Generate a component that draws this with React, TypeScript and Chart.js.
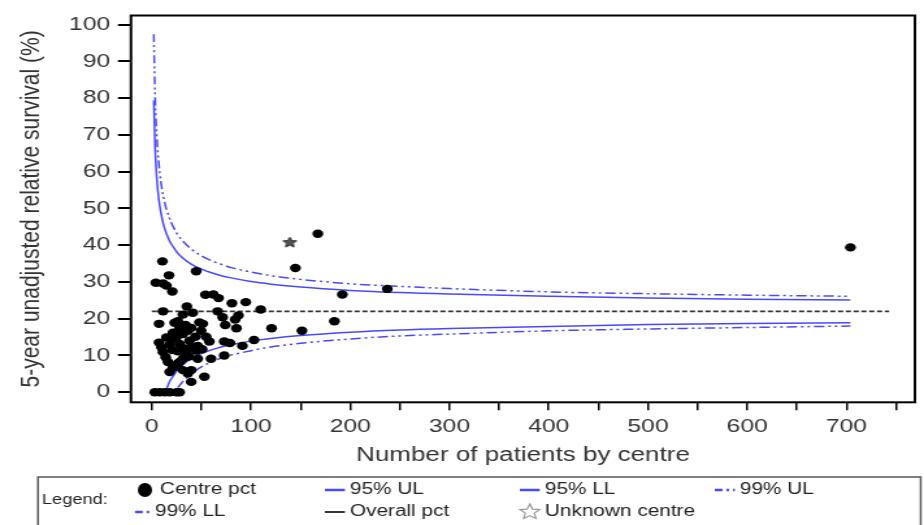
import React, { useEffect, useRef } from 'react';
import { Chart, registerables } from 'chart.js';

Chart.register(...registerables);

// ---- data ----
const centreN = [
  10.7, 44.7, 17.3, 4.0, 11.3, 14.7, 20.7, 144.7, 54.0, 62.0,
  67.3, 80.7, 94.7, 35.3, 41.3, 11.3, 66.3, 71.3, 87.3, 84.0,
  109.7, 7.3, 23.0, 51.3, 74.0, 85.3, 120.7, 151.3, 58.0, 73.0,
  78.7, 91.3, 103.0, 44.7, 59.7, 73.0, 53.0, 39.7, 18.0, 28.0,
  39.7, 7.3, 9.7, 11.3, 14.0, 16.3, 21.3, 26.3, 31.3, 34.7,
  28.0, 24.7, 31.3, 36.3, 39.7, 34.0, 28.0, 21.3, 19.7, 38.0,
  44.0, 46.3, 50.7, 39.7, 33.0, 26.3, 37.3, 46.3, 31.3, 36.3,
  20.7, 18.0, 14.7, 49.7, 54.7, 31.3, 26.3, 48.0, 32.5, 3.0,
  8.0, 13.0, 18.0, 25.0, 28.0, 167.3, 192.0, 237.3, 184.0, 704.0,
];
const centrePct = [
  35.6, 32.9, 31.8, 29.8, 29.6, 29.0, 27.4, 33.8, 26.5, 26.6,
  25.6, 24.2, 24.5, 23.3, 21.6, 22.0, 22.0, 20.4, 20.9, 19.8,
  22.5, 18.6, 18.9, 18.6, 18.3, 17.4, 17.4, 16.7, 13.8, 13.8,
  13.4, 12.6, 14.2, 11.3, 9.1, 10.0, 4.2, 2.8, 5.5, 8.2,
  6.0, 13.5, 12.2, 10.9, 9.5, 8.2, 6.7, 7.8, 9.1, 10.6,
  13.1, 14.9, 15.8, 16.7, 17.5, 18.3, 17.4, 16.2, 14.4, 14.0,
  15.1, 12.6, 11.7, 12.2, 11.9, 11.1, 9.7, 9.1, 6.0, 5.1,
  11.5, 12.9, 14.9, 16.7, 15.1, 21.1, 19.3, 19.0, 17.0, 0,
  0, 0, 0, 0, 0, 43.1, 26.6, 28.1, 19.3, 39.4,
];

const limitN = [2, 3, 4, 5, 6, 8, 10, 12, 13, 14, 15, 18, 20, 24, 25, 30, 40, 50, 60, 70, 80, 100, 120, 150, 200, 250, 300, 400, 500, 600, 704];
const ul95 = [79.4, 68.9, 62.6, 58.3, 55.1, 50.7, 47.7, 45.4, 44.5, 43.7, 43.0, 41.1, 40.2, 38.6, 38.2, 36.8, 34.8, 33.5, 32.5, 31.7, 31.1, 30.1, 29.4, 28.6, 27.7, 27.1, 26.7, 26.1, 25.6, 25.3, 25.1];
const ll95 = [0, 0, 0, 0, 0, 0, 0, 0, 0, 0.3, 1.0, 2.9, 3.8, 5.4, 5.8, 7.2, 9.2, 10.5, 11.5, 12.3, 12.9, 13.9, 14.6, 15.4, 16.3, 16.9, 17.3, 17.9, 18.4, 18.7, 18.9];
const ul99 = [97.4, 83.6, 75.4, 69.7, 65.6, 59.7, 55.7, 52.8, 51.6, 50.5, 49.6, 47.2, 45.9, 43.8, 43.3, 41.5, 38.9, 37.1, 35.8, 34.8, 33.9, 32.7, 31.7, 30.7, 29.5, 28.8, 28.2, 27.3, 26.8, 26.4, 26.1];
const ll99 = [0, 0, 0, 0, 0, 0, 0, 0, 0, 0, 0, 0, 0, 0.2, 0.7, 2.5, 5.1, 6.9, 8.2, 9.3, 10.1, 11.3, 12.3, 13.3, 14.5, 15.3, 15.8, 16.7, 17.2, 17.6, 18.0];

const overallN = [0, 743];
const overallPct = [22, 22];

const unknownN = [139];
const unknownPct = [40.7];

const xTitle = 'Number of patients by centre';
const yTitle = '5-year unadjusted relative survival (%)';
const legendNames = ['Centre pct', '95% UL', '95% LL', '99% UL', '99% LL', 'Overall pct', 'Unknown centre'];

// ---- presentation ----
const S = 1.3; // horizontal stretch of the reference image
const IW = Math.round(924 / S);
const IH = 525;
const FONT = "'Liberation Sans', Arial, sans-serif";
const BLUE = 'rgb(72,72,255)';
const DASHDOT = [8, 3, 2, 3, 2, 3];

function pts(xs: number[], ys: number[]) {
  return xs.map((x, i) => ({ x, y: ys[i] }));
}

function starPath(g: CanvasRenderingContext2D, cx: number, cy: number, ro: number, ri: number) {
  g.beginPath();
  for (let i = 0; i < 10; i++) {
    const r = i % 2 === 0 ? ro : ri;
    const a = -Math.PI / 2 + (i * Math.PI) / 5;
    const x = cx + r * Math.cos(a);
    const y = cy + r * Math.sin(a);
    if (i === 0) g.moveTo(x, y);
    else g.lineTo(x, y);
  }
  g.closePath();
}

function makeStar(fill: string, stroke: string, r: number) {
  const c = document.createElement('canvas');
  const size = Math.ceil(r * 2 + 2);
  c.width = size;
  c.height = size;
  const g = c.getContext('2d')!;
  starPath(g, size / 2, size / 2, r, r * 0.45);
  g.fillStyle = fill;
  g.fill();
  g.strokeStyle = stroke;
  g.lineWidth = 1;
  g.stroke();
  return c;
}

const X = (css: number) => css / S;

const frameLegendPlugin = {
  id: 'frameLegend',
  afterDraw(chart: any) {
    const { ctx, chartArea: a } = chart;
    ctx.save();
    // plot frame
    ctx.strokeStyle = '#000';
    ctx.lineWidth = 2;
    ctx.setLineDash([]);
    ctx.strokeRect(a.left, a.top, a.right - a.left, a.bottom - a.top);

    // legend box
    ctx.strokeStyle = '#555';
    ctx.lineWidth = 1.5;
    ctx.strokeRect(X(38), 477, X(921) - X(38), 60);

    ctx.fillStyle = '#222';
    ctx.textBaseline = 'middle';
    ctx.textAlign = 'left';
    const r1 = 490;
    const r2 = 512;
    ctx.font = `14px ${FONT}`;
    ctx.fillText('Legend:', X(42), 500);
    ctx.font = `16px ${FONT}`;

    // Centre pct
    ctx.beginPath();
    ctx.ellipse(X(145), r1, 5.5, 7, 0, 0, Math.PI * 2);
    ctx.fillStyle = '#000';
    ctx.fill();
    ctx.fillStyle = '#222';
    ctx.fillText(legendNames[0], X(160), r1);

    const sample = (x1: number, x2: number, y: number, color: string, dash: number[], w: number) => {
      ctx.beginPath();
      ctx.setLineDash(dash);
      ctx.strokeStyle = color;
      ctx.lineWidth = w;
      ctx.moveTo(X(x1), y);
      ctx.lineTo(X(x2), y);
      ctx.stroke();
      ctx.setLineDash([]);
    };
    sample(325, 345, r1, BLUE, [], 2.5);
    ctx.fillText(legendNames[1], X(350), r1);
    sample(520, 540, r1, BLUE, [], 2.5);
    ctx.fillText(legendNames[2], X(545), r1);
    sample(715, 735, r1, BLUE, [6, 3, 2, 3], 2.5);
    ctx.fillText(legendNames[3], X(740), r1);

    sample(135, 150, r2, BLUE, [6, 3, 2, 3], 2.5);
    ctx.fillText(legendNames[4], X(155), r2);
    sample(325, 345, r2, '#333', [], 2);
    ctx.fillText(legendNames[5], X(350), r2);

    starPath(ctx, X(530), r2, 8, 3.6);
    ctx.strokeStyle = '#999';
    ctx.lineWidth = 1.2;
    ctx.stroke();
    ctx.fillText(legendNames[6], X(545), r2);
    ctx.restore();
  },
};

export default function App() {
  const ref = useRef<HTMLCanvasElement | null>(null);

  useEffect(() => {
    document.body.style.margin = '0';
    const canvas = ref.current!;
    const star = makeStar('#555', '#222', 5.5);

    const chart = new Chart(canvas, {
      type: 'scatter',
      data: {
        datasets: [
          {
            label: legendNames[0],
            data: pts(centreN, centrePct),
            backgroundColor: '#000',
            borderColor: '#000',
            borderWidth: 0,
            pointRadius: 4.2,
            showLine: false,
          },
          {
            label: legendNames[6],
            data: pts(unknownN, unknownPct),
            pointStyle: star as any,
            pointRadius: 6,
            showLine: false,
          },
          {
            label: legendNames[1],
            data: pts(limitN, ul95),
            showLine: true,
            borderColor: BLUE,
            borderWidth: 1.5,
            pointRadius: 0,
            cubicInterpolationMode: 'monotone',
          },
          {
            label: legendNames[2],
            data: pts(limitN, ll95),
            showLine: true,
            borderColor: BLUE,
            borderWidth: 1.5,
            pointRadius: 0,
            cubicInterpolationMode: 'monotone',
          },
          {
            label: legendNames[3],
            data: pts(limitN, ul99),
            showLine: true,
            borderColor: BLUE,
            borderWidth: 1.5,
            borderDash: DASHDOT,
            pointRadius: 0,
            cubicInterpolationMode: 'monotone',
          },
          {
            label: legendNames[4],
            data: pts(limitN, ll99),
            showLine: true,
            borderColor: BLUE,
            borderWidth: 1.5,
            borderDash: DASHDOT,
            pointRadius: 0,
            cubicInterpolationMode: 'monotone',
          },
          {
            label: legendNames[5],
            data: pts(overallN, overallPct),
            showLine: true,
            borderColor: '#333',
            borderWidth: 1.6,
            borderDash: [4, 2],
            pointRadius: 0,
          },
        ],
      },
      options: {
        animation: false,
        responsive: false,
        devicePixelRatio: 1,
        layout: {
          padding: { left: 0, right: IW - X(921), top: 9.3, bottom: IH - 402.3 - 70 },
        },
        plugins: {
          legend: { display: false },
          tooltip: { enabled: false },
        },
        scales: {
          x: {
            type: 'linear',
            min: -21,
            max: 769,
            afterFit: (s: any) => {
              s.height = 70;
            },
            ticks: {
              stepSize: 50,
              includeBounds: false,
              autoSkip: false,
              maxRotation: 0,
              padding: 7,
              color: '#333',
              font: { family: FONT, size: 19, lineHeight: 1 },
              callback: (v: any) => (Number(v) % 100 === 0 ? String(v) : ''),
            },
            grid: { drawOnChartArea: false, drawTicks: true, tickLength: 8, color: '#000', lineWidth: 1.5 },
            border: { display: false },
            title: {
              display: true,
              text: xTitle,
              color: '#333',
              font: { family: FONT, size: 20 },
              padding: { top: 0, bottom: 5 },
            },
          },
          y: {
            type: 'linear',
            min: -2.75,
            max: 102.5,
            afterFit: (s: any) => {
              s.width = X(131);
            },
            ticks: {
              stepSize: 10,
              includeBounds: false,
              padding: 6,
              color: '#333',
              font: { family: FONT, size: 19, lineHeight: 1 },
            },
            grid: { drawOnChartArea: false, drawTicks: true, tickLength: 10, color: '#000', lineWidth: 2 },
            border: { display: false },
            title: {
              display: true,
              text: yTitle,
              color: '#333',
              font: { family: FONT, size: 21 },
              padding: { top: 12, bottom: 0 },
            },
          },
        },
      },
      plugins: [frameLegendPlugin],
    } as any);

    return () => chart.destroy();
  }, []);

  return (
    <canvas
      ref={ref}
      width={IW}
      height={IH}
      style={{ width: '924px', height: '525px', display: 'block' }}
    />
  );
}
